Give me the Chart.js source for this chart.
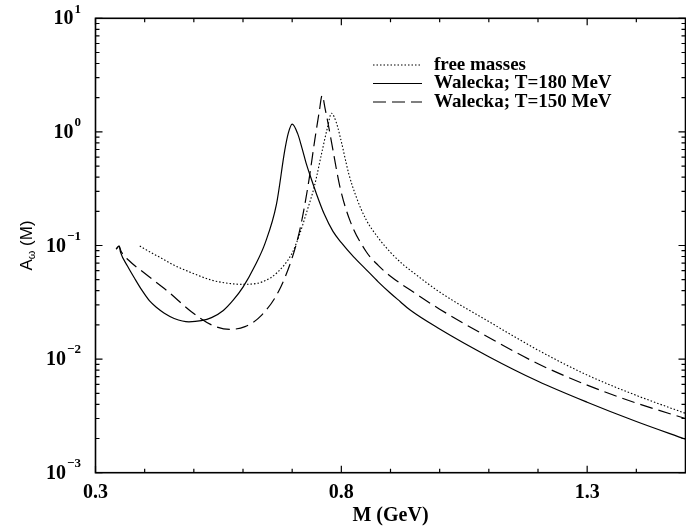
<!DOCTYPE html>
<html>
<head>
<meta charset="utf-8">
<script src="https://cdn.jsdelivr.net/npm/chart.js@4/dist/chart.umd.min.js"></script>
<style>
  html, body { margin: 0; padding: 0; background: #fff; }
  canvas { display: block; }
</style>
</head>
<body>
<canvas id="myChart" width="686" height="532"></canvas>
<script>
// free masses (dotted)
const freeM = [0.39, 0.41, 0.435, 0.46, 0.49, 0.535, 0.57, 0.60, 0.64, 0.67, 0.70, 0.715, 0.73, 0.745, 0.76, 0.772, 0.78, 0.79, 0.80, 0.815, 0.83, 0.85, 0.875, 0.90, 0.925, 0.95, 1.0, 1.1, 1.2, 1.3, 1.4, 1.5];
const freeA = [0.099, 0.088, 0.077, 0.067, 0.0588, 0.0497, 0.0465, 0.0455, 0.048, 0.058, 0.086, 0.125, 0.20, 0.33, 0.65, 1.1, 1.46, 1.2, 0.82, 0.43, 0.27, 0.17, 0.117, 0.087, 0.0684, 0.0562, 0.0389, 0.0214, 0.0120, 0.00724, 0.00479, 0.00333];

// Walecka T=180 MeV (solid)
const w180M = [0.342, 0.348, 0.351, 0.365, 0.38, 0.395, 0.41, 0.425, 0.44, 0.46, 0.49, 0.515, 0.536, 0.56, 0.58, 0.60, 0.624, 0.645, 0.668, 0.685, 0.692, 0.70, 0.711, 0.72, 0.729, 0.736, 0.75, 0.765, 0.783, 0.80, 0.825, 0.85, 0.875, 0.90, 0.92, 0.94, 1.0, 1.1, 1.2, 1.3, 1.4, 1.5];
const w180A = [0.093, 0.099, 0.087, 0.066, 0.051, 0.040, 0.0325, 0.0283, 0.0253, 0.0228, 0.0213, 0.0218, 0.0232, 0.0268, 0.033, 0.043, 0.066, 0.105, 0.23, 0.69, 0.97, 1.17, 0.97, 0.72, 0.52, 0.42, 0.28, 0.19, 0.133, 0.106, 0.0794, 0.0617, 0.0479, 0.038, 0.032, 0.027, 0.0184, 0.0105, 0.00638, 0.00417, 0.00282, 0.00197];

// Walecka T=150 MeV (dashed)
const w150M = [0.342, 0.348, 0.352, 0.367, 0.40, 0.448, 0.495, 0.536, 0.573, 0.604, 0.638, 0.672, 0.70, 0.716, 0.733, 0.746, 0.755, 0.761, 0.767, 0.773, 0.783, 0.797, 0.817, 0.85, 0.875, 0.90, 0.95, 1.0, 1.1, 1.2, 1.3, 1.4, 1.5];
const w150A = [0.093, 0.099, 0.089, 0.0745, 0.0569, 0.0392, 0.0261, 0.020, 0.0183, 0.0193, 0.0244, 0.0392, 0.078, 0.14, 0.35, 0.85, 1.5, 2.1, 1.6, 1.19, 0.69, 0.33, 0.168, 0.089, 0.0668, 0.0537, 0.038, 0.0275, 0.0155, 0.0091, 0.0059, 0.0041, 0.0030];

const xMajorTicks = [0.3, 0.8, 1.3];
const xMinorTicks = [0.4, 0.5, 0.6, 0.7, 0.9, 1.0, 1.1, 1.2, 1.4];
const xTickLabels = ["0.3", "0.8", "1.3"];
const yDecades = [-3, -2, -1, 0, 1];
const yExpLabels = ["\u22123", "\u22122", "\u22121", "0", "1"];

const serif = "'Liberation Serif', 'Times New Roman', serif";

function pts(ms, as) {
  return ms.map((m, i) => ({ x: m, y: as[i] }));
}

const decorPlugin = {
  id: "decor",
  afterDraw(chart) {
    const ctx = chart.ctx;
    const a = chart.chartArea;
    const xs = chart.scales.x, ys = chart.scales.y;
    ctx.save();
    ctx.strokeStyle = "#000";
    ctx.fillStyle = "#000";

    // frame
    ctx.lineWidth = 1.6;
    ctx.strokeRect(a.left, a.top, a.right - a.left, a.bottom - a.top);

    // ticks (inward, all four sides)
    ctx.lineWidth = 1.2;
    function hTick(v, len) {
      const x = xs.getPixelForValue(v);
      ctx.beginPath();
      ctx.moveTo(x, a.bottom); ctx.lineTo(x, a.bottom - len);
      ctx.moveTo(x, a.top); ctx.lineTo(x, a.top + len);
      ctx.stroke();
    }
    function vTick(v, len) {
      const y = ys.getPixelForValue(v);
      ctx.beginPath();
      ctx.moveTo(a.left, y); ctx.lineTo(a.left + len, y);
      ctx.moveTo(a.right, y); ctx.lineTo(a.right - len, y);
      ctx.stroke();
    }
    xMajorTicks.forEach(v => hTick(v, 7));
    xMinorTicks.forEach(v => hTick(v, 4));
    yDecades.forEach(e => vTick(Math.pow(10, e), 7));
    yDecades.slice(0, -1).forEach(e => {
      for (let k = 2; k <= 9; k++) vTick(k * Math.pow(10, e), 4);
    });

    // x tick labels
    ctx.font = "bold 20px " + serif;
    ctx.textAlign = "center";
    ctx.textBaseline = "middle";
    xMajorTicks.forEach((v, i) => {
      ctx.fillText(xTickLabels[i], xs.getPixelForValue(v), 493);
    });
    // x title
    ctx.fillText("M (GeV)", (a.left + a.right) / 2, 516);

    // y tick labels 10^n
    yDecades.forEach((e, i) => {
      const y = ys.getPixelForValue(Math.pow(10, e));
      ctx.font = "bold 13px " + serif;
      ctx.textAlign = "left";
      const ew = ctx.measureText(yExpLabels[i]).width;
      const ex = 81 - ew;
      ctx.fillText(yExpLabels[i], ex, y - 9);
      ctx.font = "bold 20px " + serif;
      ctx.textAlign = "right";
      ctx.fillText("10", ex - 1, y + 1);
    });

    // y title A_omega (M), rotated
    ctx.save();
    ctx.translate(27, (a.top + a.bottom) / 2);
    ctx.rotate(-Math.PI / 2);
    ctx.textBaseline = "middle";
    ctx.textAlign = "left";
    const f1 = "17px 'Liberation Sans', Arial, sans-serif";
    const f2 = "11px 'Liberation Sans', Arial, sans-serif";
    ctx.font = f1;
    const wA = ctx.measureText("A").width;
    const wM = ctx.measureText(" (M)").width;
    ctx.font = f2;
    const wO = ctx.measureText("\u03c9").width;
    let x0 = -(wA + wO + wM) / 2;
    ctx.font = f1;
    ctx.fillText("A", x0, 0);
    ctx.font = f2;
    ctx.fillText("\u03c9", x0 + wA, 5);
    ctx.font = f1;
    ctx.fillText(" (M)", x0 + wA + wO, 0);
    ctx.restore();

    // legend
    const rows = [65, 83.5, 102];
    ctx.font = "bold 19px " + serif;
    ctx.textAlign = "left";
    ctx.textBaseline = "middle";
    chart.data.datasets.forEach((ds, i) => {
      const y = rows[i];
      ctx.save();
      ctx.lineWidth = ds.borderWidth;
      ctx.setLineDash(ds.borderDash || []);
      ctx.beginPath();
      ctx.moveTo(373, y); ctx.lineTo(422, y);
      ctx.stroke();
      ctx.restore();
      ctx.fillText(ds.label, 434, y);
    });
    ctx.restore();
  }
};

const config = {
  type: "line",
  data: {
    datasets: [
      {
        label: "free masses",
        data: pts(freeM, freeA),
        borderColor: "#000",
        borderWidth: 1.1,
        borderDash: [1.5, 2],
      },
      {
        label: "Walecka; T=180 MeV",
        data: pts(w180M, w180A),
        borderColor: "#000",
        borderWidth: 1.2,
      },
      {
        label: "Walecka; T=150 MeV",
        data: pts(w150M, w150A),
        borderColor: "#000",
        borderWidth: 1.2,
        borderDash: [13, 6],
      },
    ]
  },
  options: {
    responsive: false,
    animation: false,
    parsing: false,
    layout: { padding: { left: 95.5, right: 0.5, top: 18.3, bottom: 59.3 } },
    elements: {
      point: { radius: 0 },
      line: { cubicInterpolationMode: "monotone", fill: false }
    },
    scales: {
      x: { type: "linear", min: 0.3, max: 1.5, display: false },
      y: { type: "logarithmic", min: 0.001, max: 10, display: false }
    },
    plugins: { legend: { display: false }, tooltip: { enabled: false } }
  },
  plugins: [decorPlugin]
};

const context = document.getElementById("myChart");
const myChart = new Chart(context, config);
</script>
</body>
</html>
